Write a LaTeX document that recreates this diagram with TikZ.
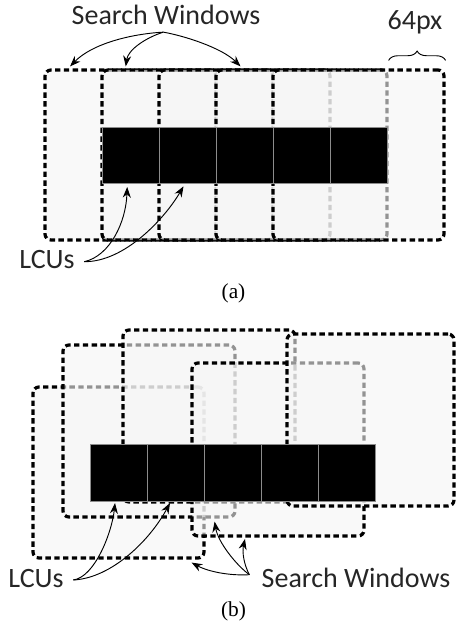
\documentclass[tikz,border=0pt]{standalone}
\usepackage{fontspec}
\setmainfont{Liberation Serif}
\newfontfamily\lblfont{Carlito}
\usetikzlibrary{positioning,arrows.meta,decorations.pathreplacing}

\begin{document}
\begin{tikzpicture}[
    x=0.75pt, y=-0.75pt,
    node distance=0pt,
    win/.style={draw, line width=2.4pt, dash pattern=on 4pt off 2.6pt, rounded corners=4.5pt,
      fill=black!4, fill opacity=0.6, inner sep=0pt, minimum width=128.25pt, minimum height=127.5pt},
    lcu/.style={draw=black!45, line width=0.6pt, fill=black, inner sep=0pt, outer sep=0pt,
      minimum width=42.75pt, minimum height=42pt},
    lbl/.style={font=\lblfont\fontsize{21}{25}\selectfont, text=black!85, inner sep=1pt, anchor=base},
    caption/.style={font=\fontsize{16}{18}\selectfont, anchor=base},
    arrow/.style={-{Stealth[length=8pt,width=6pt]}, line width=0.7pt},
    brace/.style={decorate, decoration={brace, amplitude=7pt}, line width=0.7pt}
  ]
  \useasboundingbox (0,0) rectangle (456,624);

  % (a) search windows of neighbouring LCUs
  \node[win] (swA1) at (130.5,155) {};
  \node[win] (swA2) at (187.5,155) {};
  \node[win] (swA3) at (244.5,155) {};
  \node[win] (swA4) at (301.5,155) {};
  \node[win] (swA5) at (358.5,155) {};
  \node[lcu] (lcuA1) at (130.5,155) {};
  \node[lcu, right=of lcuA1] (lcuA2) {};
  \node[lcu, right=of lcuA2] (lcuA3) {};
  \node[lcu, right=of lcuA3] (lcuA4) {};
  \node[lcu, right=of lcuA4] (lcuA5) {};

  \node[lbl] (lblSWa) at (166,25) {Search Windows};
  \node[lbl] (lbl64) at (415,30) {64px};
  \node[lbl] (lblLCUa) at (47,268) {LCUs};
  \node[caption] (capA) at (233.5,298) {(a)};
  \draw[brace] ([yshift=6pt]swA4.north east) -- ([yshift=6pt]swA5.north east);

  \draw[arrow] ([xshift=-2pt,yshift=-4pt]lblSWa.south) .. controls (130,34) and (92,44) .. ([xshift=20pt,yshift=1.5pt]swA1.north west);
  \draw[arrow] ([xshift=-2pt,yshift=-4pt]lblSWa.south) .. controls (145,38) and (128,50) .. ([xshift=19pt,yshift=1.5pt]swA2.north west);
  \draw[arrow] ([xshift=-2pt,yshift=-4pt]lblSWa.south) .. controls (185,36) and (222,48) .. ([xshift=-3pt,yshift=1.5pt]swA3.north);
  \draw[arrow] ([xshift=6pt,yshift=-2pt]lblLCUa.east) .. controls (110,256) and (126,222) .. ([xshift=-2.5pt,yshift=-3pt]lcuA1.south);
  \draw[arrow] ([xshift=6pt,yshift=-2pt]lblLCUa.east) .. controls (125,262) and (165,218) .. ([xshift=-3pt,yshift=-2.5pt]lcuA2.south);

  % (b) search windows after motion
  \node[win, minimum width=128.25pt, minimum height=128.25pt] (swB1) at (118.5,472.5) {};
  \node[win, minimum width=129pt, minimum height=129pt] (swB2) at (149,431) {};
  \node[win, minimum width=129pt, minimum height=129pt] (swB3) at (209,416) {};
  \node[win, minimum width=129pt, minimum height=129.75pt] (swB4) at (278,449.5) {};
  \node[win, minimum width=125.25pt, minimum height=129pt] (swB5) at (370.5,420) {};
  \node[lcu, minimum height=42.75pt] (lcuB1) at (119,472.5) {};
  \node[lcu, minimum height=42.75pt, right=of lcuB1] (lcuB2) {};
  \node[lcu, minimum height=42.75pt, right=of lcuB2] (lcuB3) {};
  \node[lcu, minimum height=42.75pt, right=of lcuB3] (lcuB4) {};
  \node[lcu, minimum height=42.75pt, right=of lcuB4] (lcuB5) {};

  \node[lbl] (lblLCUb) at (36,587) {LCUs};
  \node[lbl] (lblSWb) at (356,587) {Search Windows};
  \node[caption] (capB) at (233.5,616) {(b)};

  \draw[arrow] ([xshift=6pt,yshift=-1.5pt]lblLCUb.east) .. controls (95,577) and (112,532) .. ([xshift=-3pt,yshift=-1.5pt]lcuB1.south);
  \draw[arrow] ([xshift=6pt,yshift=-1.5pt]lblLCUb.east) .. controls (112,578) and (150,540) .. ([xshift=-4.5pt,yshift=-1.5pt]lcuB2.south);
  \draw[arrow] ([xshift=-8pt,yshift=2pt]lblSWb.west) .. controls (225,576) and (205,570) .. ([xshift=-10.5pt,yshift=-2.25pt]swB1.south east);
  \draw[arrow] ([xshift=-8pt,yshift=2pt]lblSWb.west) .. controls (236,565) and (218,542) .. ([xshift=-16.5pt,yshift=-2.25pt]swB2.south east);
  \draw[arrow] ([xshift=-8pt,yshift=2pt]lblSWb.west) .. controls (244,565) and (242,552) .. ([xshift=-24.75pt,yshift=-1pt]swB4.south);
\end{tikzpicture}
\end{document}
